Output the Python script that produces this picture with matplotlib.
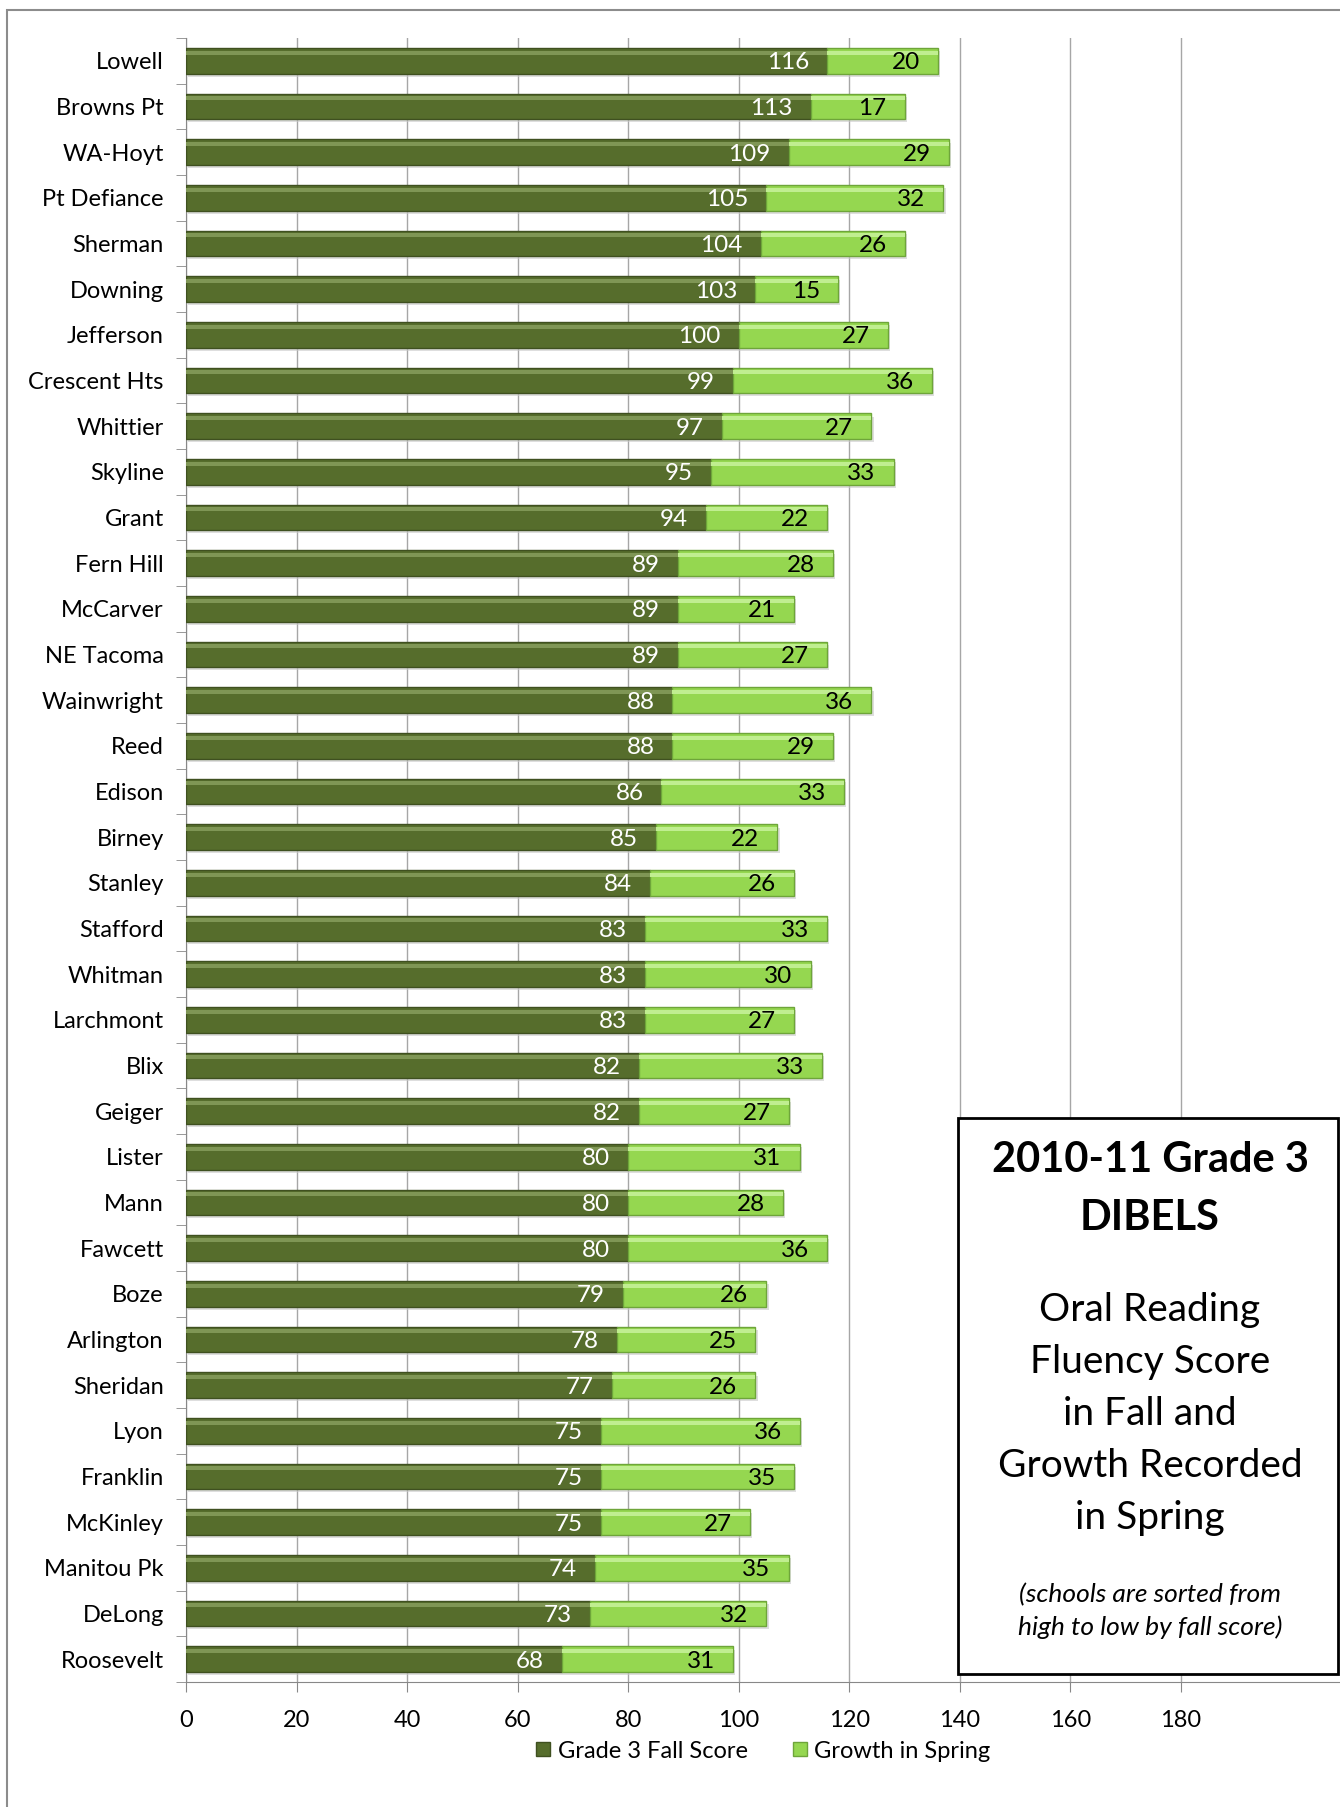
import matplotlib
matplotlib.use("Agg")
import matplotlib.pyplot as plt
from matplotlib.patches import Rectangle
from matplotlib.lines import Line2D
import numpy as np

# Schools, sorted high to low by fall score
schools = ["Lowell", "Browns Pt", "WA-Hoyt", "Pt Defiance", "Sherman", "Downing",
           "Jefferson", "Crescent Hts", "Whittier", "Skyline", "Grant", "Fern Hill",
           "McCarver", "NE Tacoma", "Wainwright", "Reed", "Edison", "Birney",
           "Stanley", "Stafford", "Whitman", "Larchmont", "Blix", "Geiger",
           "Lister", "Mann", "Fawcett", "Boze", "Arlington", "Sheridan",
           "Lyon", "Franklin", "McKinley", "Manitou Pk", "DeLong", "Roosevelt"]
fall_score = [116, 113, 109, 105, 104, 103, 100, 99, 97, 95, 94, 89,
              89, 89, 88, 88, 86, 85, 84, 83, 83, 83, 82, 82,
              80, 80, 80, 79, 78, 77, 75, 75, 75, 74, 73, 68]
spring_growth = [20, 17, 29, 32, 26, 15, 27, 36, 27, 33, 22, 28,
                 21, 27, 36, 29, 33, 22, 26, 33, 30, 27, 33, 27,
                 31, 28, 36, 26, 25, 26, 36, 35, 27, 35, 32, 31]
x_ticks = [0, 20, 40, 60, 80, 100, 120, 140, 160, 180]

FONT = ["Lato", "DejaVu Sans"]
plt.rcParams["font.family"] = FONT

W, H = 1340, 1807
fig = plt.figure(figsize=(W / 100, H / 100), dpi=100)

# plot area in pixel terms
left_px, right_px, top_px, bottom_px = 186, 1340, 38, 1682
ax = fig.add_axes([left_px / W, 1 - bottom_px / H,
                   (right_px - left_px) / W, (bottom_px - top_px) / H])

n = len(schools)
y = np.arange(n)
fall = np.array(fall_score)
growth = np.array(spring_growth)
bh = 0.56

dark, dark_edge, dark_hi = "#566d2c", "#3f5020", "#7f9655"
light, light_edge, light_hi = "#95d750", "#6ea53a", "#c0ee90"

# shadow under bars
ax.barh(y + 0.07, fall + growth, height=bh, left=0.4, color="#c8c8c8",
        zorder=2, alpha=0.6)
ax.barh(y, fall, height=bh, color=dark, edgecolor=dark_edge, linewidth=1, zorder=3)
ax.barh(y, growth, left=fall, height=bh, color=light, edgecolor=light_edge,
        linewidth=1, zorder=3)
# bevel highlights
ax.barh(y - bh * 0.32, fall, height=bh * 0.16, color=dark_hi, zorder=4, linewidth=0)
ax.barh(y - bh * 0.32, growth, left=fall, height=bh * 0.16, color=light_hi,
        zorder=4, linewidth=0)

for i in range(n):
    ax.annotate(str(fall[i]), (fall[i], y[i]), xytext=(-18, -2),
                textcoords="offset pixels", ha="right", va="center",
                color="white", fontsize=17.5, zorder=5)
    ax.annotate(str(growth[i]), (fall[i] + growth[i], y[i]), xytext=(-18, -2),
                textcoords="offset pixels", ha="right", va="center",
                color="black", fontsize=17.5, zorder=5)

ax.set_ylim(n - 0.5, -0.5)
ax.set_xlim(0, (right_px - left_px) / ((1181 - 186) / 180))
ax.set_yticks(y)
ax.set_yticklabels(schools, fontsize=17)
ax.set_yticks(np.arange(n + 1) - 0.5, minor=True)
ax.tick_params(axis="y", which="major", length=0, pad=16)
ax.tick_params(axis="y", which="minor", length=7, color="#888888", direction="out")
ax.set_xticks(x_ticks)
ax.set_xticklabels([str(t) for t in x_ticks], fontsize=17)
ax.tick_params(axis="x", length=7, color="#888888", pad=13)
ax.grid(axis="x", color="#a6a6a6", linewidth=1, zorder=0)
ax.set_axisbelow(True)
for s in ["top", "right"]:
    ax.spines[s].set_visible(False)
for s in ["left", "bottom"]:
    ax.spines[s].set_color("#888888")

handles = [Line2D([], [], marker="s", linestyle="", markersize=10,
                  markerfacecolor=dark, markeredgecolor=dark_edge),
           Line2D([], [], marker="s", linestyle="", markersize=10,
                  markerfacecolor=light, markeredgecolor=light_edge)]
fig.legend(handles, ["Grade 3 Fall Score", "Growth in Spring"], ncol=2,
           loc="center", bbox_to_anchor=(762 / W, 1 - 1751 / H), frameon=False,
           fontsize=17, handlelength=0.8, handletextpad=0.2, columnspacing=1.8)

# outer chart border (left and top visible)
fig.patches.append(Rectangle((7 / W, -0.1), 2, 1.1 - 10 / H, transform=fig.transFigure,
                             fill=False, edgecolor="#8c8c8c", linewidth=1.5))

# title box
bx0, bx1, by0, by1 = 958, 1338, 1118, 1674
fig.patches.append(Rectangle((bx0 / W, 1 - by1 / H), (bx1 - bx0) / W, (by1 - by0) / H,
                             transform=fig.transFigure, facecolor="white",
                             edgecolor="black", linewidth=2, zorder=5))
cx = 1150 / W
lines = [("2010-11 Grade 3", 1160, 30, "bold", "normal"),
         ("DIBELS", 1218, 30, "bold", "normal"),
         ("Oral Reading", 1310, 28, "normal", "normal"),
         ("Fluency Score", 1362, 28, "normal", "normal"),
         ("in Fall and", 1414, 28, "normal", "normal"),
         ("Growth Recorded", 1466, 28, "normal", "normal"),
         ("in Spring", 1518, 28, "normal", "normal"),
         ("(schools are sorted from", 1595, 19, "normal", "italic"),
         ("high to low by fall score)", 1627, 19, "normal", "italic")]
for txt, py, fs, fw, st in lines:
    fig.text(cx, 1 - py / H, txt, ha="center", va="center", fontsize=fs,
             fontweight=fw, fontstyle=st, zorder=6)

fig.savefig("out.png", dpi=100)
